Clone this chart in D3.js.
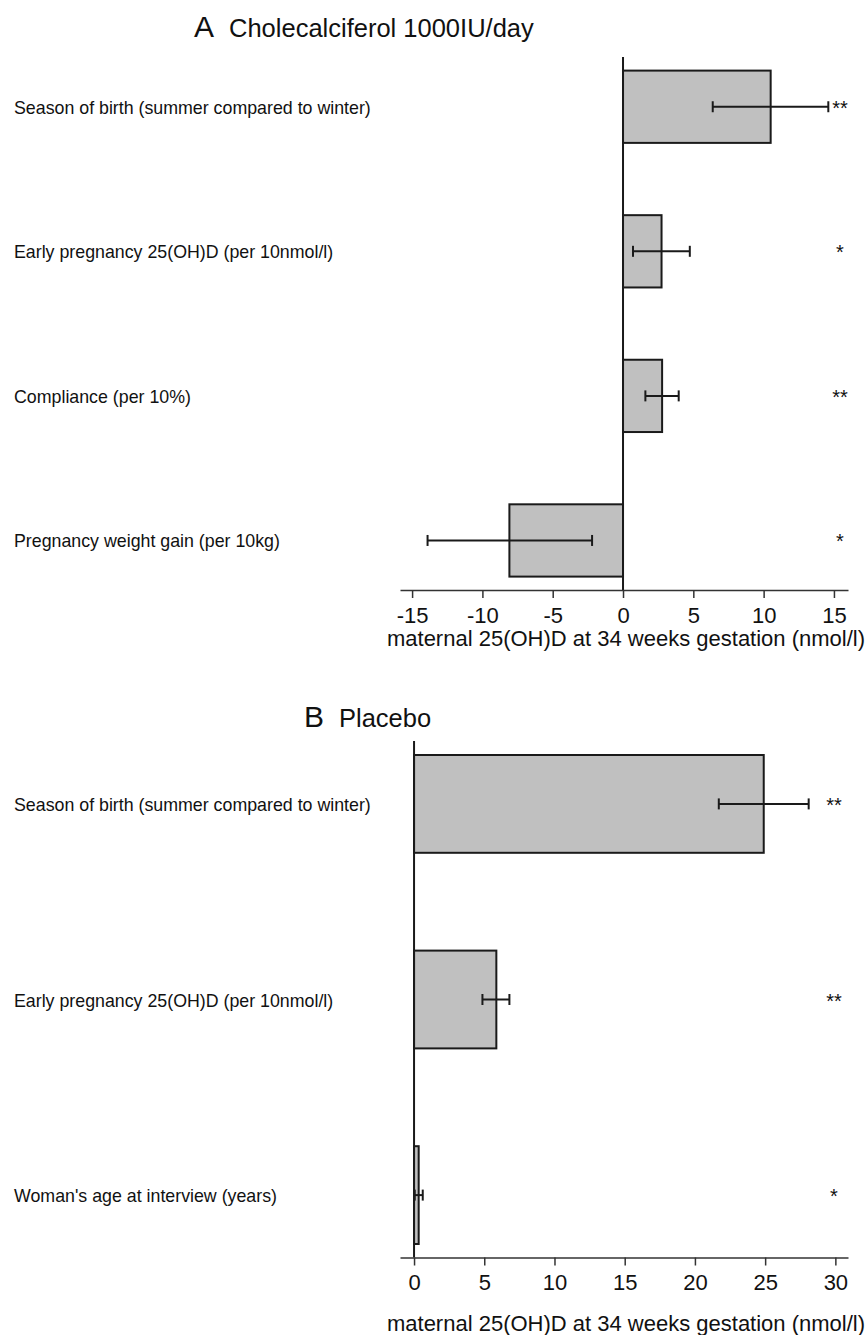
<!DOCTYPE html>
<html lang="en">
<head>
  <title>25(OH)D predictors</title>
  <meta charset="utf-8">
  <script src="https://d3js.org/d3.v7.min.js"></script>
  <style>
    body { margin: 0; background: #fff; }
    text { font-family: "Liberation Sans", Arial, sans-serif; fill: #111; }
  </style>
</head>
<body>
<script>
  // panel A - cholecalciferol group
  var catsA = ["Season of birth (summer compared to winter)",
               "Early pregnancy 25(OH)D (per 10nmol/l)",
               "Compliance (per 10%)",
               "Pregnancy weight gain (per 10kg)"];
  var estA = [10.5, 2.74, 2.78, -8.08];
  var loA  = [6.38, 0.71, 1.59, -13.9];
  var hiA  = [14.6, 4.75, 3.96, -2.2];
  var sigA = ["**", "*", "**", "*"];
  var ticksA = [-15, -10, -5, 0, 5, 10, 15];

  // panel B - placebo group
  var catsB = ["Season of birth (summer compared to winter)",
               "Early pregnancy 25(OH)D (per 10nmol/l)",
               "Woman's age at interview (years)"];
  var estB = [24.9, 5.86, 0.33];
  var loB  = [21.7, 4.87, 0.05];
  var hiB  = [28.1, 6.79, 0.62];
  var sigB = ["**", "**", "*"];
  var ticksB = [0, 5, 10, 15, 20, 25, 30];

  var axisTitle = "maternal 25(OH)D at 34 weeks gestation (nmol/l)";

  var svg = d3.select("body").append("svg")
     .attr("width", 868)
     .attr("height", 1335);

  function drawPanel(p) {
    var rows = p.cats.map(function(c, i) {
      return {cat: c, est: p.est[i], lo: p.lo[i], hi: p.hi[i], sig: p.sig[i]};
    });

    var x = d3.scaleLinear().domain(p.xdom).range([400, 848]);
    var y = d3.scaleBand().domain(p.cats).range(p.yrange).paddingInner(0.5).paddingOuter(0);
    var g = svg.append("g");

    // title
    g.append("text").attr("x", p.titleX).attr("y", p.titleY)
      .style("font-size", "30px").text(p.letter);
    g.append("text").attr("x", p.titleX + 35).attr("y", p.titleY)
      .style("font-size", "25.5px").text(p.title);

    // bars
    g.selectAll("rect.bar").data(rows).enter().append("rect")
      .attr("class", "bar")
      .attr("x", function(d) { return x(Math.min(0, d.est)); })
      .attr("y", function(d) { return y(d.cat); })
      .attr("width", function(d) { return Math.abs(x(d.est) - x(0)); })
      .attr("height", y.bandwidth())
      .attr("fill", "#c0c0c0")
      .attr("stroke", "#1a1a1a")
      .attr("stroke-width", 2);

    // error bars
    var cy = function(d) { return y(d.cat) + y.bandwidth() / 2; };
    g.selectAll("line.err").data(rows).enter().append("line")
      .attr("x1", function(d) { return x(d.lo); })
      .attr("x2", function(d) { return x(d.hi); })
      .attr("y1", cy).attr("y2", cy)
      .attr("stroke", "#1a1a1a").attr("stroke-width", 2);
    ["lo", "hi"].forEach(function(k) {
      g.selectAll("line.cap" + k).data(rows).enter().append("line")
        .attr("x1", function(d) { return x(d[k]); })
        .attr("x2", function(d) { return x(d[k]); })
        .attr("y1", function(d) { return cy(d) - 5.5; })
        .attr("y2", function(d) { return cy(d) + 5.5; })
        .attr("stroke", "#1a1a1a").attr("stroke-width", 2);
    });

    // significance stars
    g.selectAll("text.sig").data(rows).enter().append("text")
      .attr("x", p.sigX)
      .attr("y", function(d) { return cy(d) + 8; })
      .attr("text-anchor", "middle")
      .style("font-size", "20px")
      .text(function(d) { return d.sig; });

    // category labels
    g.selectAll("text.cat").data(rows).enter().append("text")
      .attr("x", 14)
      .attr("y", function(d) { return cy(d) + 7; })
      .style("font-size", "17.8px")
      .text(function(d) { return d.cat; });

    // zero line
    g.append("line")
      .attr("x1", x(0)).attr("x2", x(0))
      .attr("y1", p.zeroTop).attr("y2", p.axisY)
      .attr("stroke", "#1a1a1a").attr("stroke-width", 2);

    // x axis, plain hyphen for negatives like the original
    var ax = g.append("g").attr("transform", "translate(0," + p.axisY + ")")
      .call(d3.axisBottom(x).tickValues(p.ticks)
        .tickFormat(function(d) { return String(d); })
        .tickSize(8).tickPadding(9).tickSizeOuter(0));
    ax.select(".domain").attr("stroke", "#333").attr("stroke-width", 1.5);
    ax.selectAll(".tick line").attr("stroke", "#333").attr("stroke-width", 1.5);
    ax.selectAll(".tick text")
      .style("font-size", "22px")
      .style("font-family", "'Liberation Sans', Arial, sans-serif")
      .attr("fill", "#111");

    g.append("text")
      .attr("x", 626).attr("y", p.axisTitleY)
      .attr("text-anchor", "middle")
      .style("font-size", "22px")
      .text(axisTitle);
  }

  drawPanel({letter: "A", title: "Cholecalciferol 1000IU/day", titleX: 194, titleY: 37,
             cats: catsA, est: estA, lo: loA, hi: hiA, sig: sigA, ticks: ticksA,
             xdom: [-15.86, 16.0], yrange: [70.6, 576.6], zeroTop: 57, axisY: 590,
             axisTitleY: 646, sigX: 840});

  drawPanel({letter: "B", title: "Placebo", titleX: 304, titleY: 727,
             cats: catsB, est: estB, lo: loB, hi: hiB, sig: sigB, ticks: ticksB,
             xdom: [-1.0, 30.9], yrange: [755, 1244], zeroTop: 741, axisY: 1257.5,
             axisTitleY: 1331, sigX: 834});
</script>
</body>
</html>
